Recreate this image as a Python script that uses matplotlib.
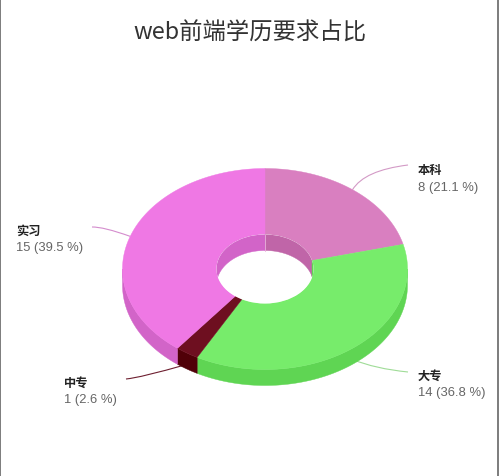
import numpy as np
import matplotlib
matplotlib.use("Agg")
import matplotlib.pyplot as plt
from matplotlib.patches import Polygon, PathPatch, Ellipse, Rectangle
from matplotlib.path import Path

plt.rcParams['font.family'] = ['Noto Sans CJK SC', 'DejaVu Sans']

title = "web前端学历要求占比"
categories = ["本科", "大专", "中专", "实习"]
values = [8, 14, 1, 15]
percents = ["21.1", "36.8", "2.6", "39.5"]
top_colors = ["#d97fc0", "#77ec6b", "#6e0f20", "#ef78e4"]
wall_colors = ["#c065a8", "#5fd553", "#500008", "#d264c8"]
line_colors = ["#d39ac6", "#9fdc97", "#6e1f30", "#d48ccd"]
label_xy = [(418, 171), (418, 376), (64, 383), (16, 231)]
line_ends = [(408, 166), (408, 373), (126, 380), (92, 228)]
line_ctrl = [(-16, -7), (-5, 3), (-16, 6), (-8, -5)]
on_wall = [False, True, True, False]

W, H = 499, 477
cx, cy, rx, ry, depth = 265, 270, 142.5, 100.5, 16
irx, iry = 48.5, 34.5

fig = plt.figure(figsize=(W / 100, H / 100), dpi=100)
ax = fig.add_axes([0, 0, 1, 1])
ax.set_xlim(0, W)
ax.set_ylim(H, 0)
ax.axis("off")


def ell(t, a, b, dy=0):
    return np.column_stack([cx + a * np.sin(t), cy - b * np.cos(t) + dy])


edges = 2 * np.pi * np.concatenate([[0], np.cumsum(values)]) / sum(values)

# outer walls, visible on the front half only
for i in range(len(values)):
    lo, hi = max(edges[i], np.pi / 2), min(edges[i + 1], 3 * np.pi / 2)
    if lo < hi:
        t = np.linspace(lo, hi, 200)
        pts = np.vstack([ell(t, rx, ry), ell(t[::-1], rx, ry, depth)])
        ax.add_patch(Polygon(pts, closed=True, fc=wall_colors[i], ec=wall_colors[i], lw=0.3, zorder=2))

# top faces
for i in range(len(values)):
    t = np.linspace(edges[i], edges[i + 1], 300)
    pts = np.vstack([ell(t, rx, ry), ell(t[::-1], irx, iry)])
    ax.add_patch(Polygon(pts, closed=True, fc=top_colors[i], ec=top_colors[i], lw=0.3, zorder=3))

# the hole and its inner wall, clipped to the hole
hole = Ellipse((cx, cy), 2 * irx, 2 * iry, fc="white", ec="none", zorder=4)
ax.add_patch(hole)
for i in range(len(values)):
    t0 = np.linspace(edges[i], edges[i + 1], 200)
    t = t0[(np.cos(t0) >= 0)]
    if len(t) > 1:
        pts = np.vstack([ell(t, irx, iry), ell(t[::-1], irx, iry, depth)])
        p = Polygon(pts, closed=True, fc=wall_colors[i], ec=wall_colors[i], lw=0.3, zorder=5)
        ax.add_patch(p)
        p.set_clip_path(hole)
ax.plot([cx, cx], [cy - iry, cy - iry + depth], color="#e9b4dc", lw=0.6, zorder=6)

# leader lines and labels
mids = 2 * np.pi * (np.cumsum(values) - np.array(values) / 2) / sum(values)
for i, name in enumerate(categories):
    start = ell(np.array([mids[i]]), rx, ry, depth * 0.7 if on_wall[i] else 0)[0]
    end = np.array(line_ends[i], dtype=float)
    ctrl = (start + end) / 2 + np.array(line_ctrl[i])
    path = Path([start, ctrl, end], [Path.MOVETO, Path.CURVE3, Path.CURVE3])
    ax.add_patch(PathPatch(path, fc="none", ec=line_colors[i], lw=0.8, zorder=1))
    x, y = label_xy[i]
    ax.text(x, y, name, fontsize=8.8, fontweight="bold", color="#222222", ha="left", va="center")
    ax.text(x, y + 17, f"{values[i]} ({percents[i]} %)", fontsize=9.4, color="#666666",
            ha="left", va="center", family=["Liberation Sans", "DejaVu Sans"])

ax.text(250, 33, title, fontsize=16.8, color="#333333", ha="center", va="center")

# card border
ax.add_patch(Rectangle((0, 0), 1.2, H, fc="#7f7f7f", ec="none", zorder=9))
ax.add_patch(Rectangle((W - 1.5, 0), 1.5, H, fc="#7f7f7f", ec="none", zorder=9))
ax.add_patch(Rectangle((0, 0), W, 1.2, fc="#7f7f7f", ec="none", zorder=9))

fig.savefig("out.png", dpi=100)
